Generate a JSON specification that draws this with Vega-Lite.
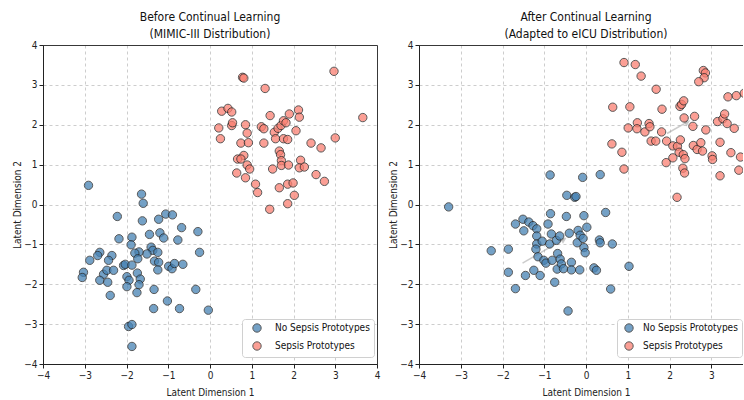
{
  "$schema": "https://vega.github.io/schema/vega-lite/v6.json",
  "background": "white",
  "padding": {"left": 12, "top": 11, "right": 0, "bottom": 0},
  "config": {
    "font": "DejaVu Sans Condensed",
    "view": {"stroke": null},
    "axis": {"grid": true, "labelFlush": false, "gridDash": {"condition": {"test": "abs(datum.value) == 4", "value": []}, "value": [3, 3]}, "gridColor": {"condition": {"test": "abs(datum.value) == 4", "value": "#222"}, "value": "#c8c8c8"}, "gridOpacity": 0.9, "domainColor": "#222", "tickColor": "#222", "labelFontSize": 10, "titleFontSize": 10, "labelColor": "#222", "titleColor": "#222", "titleFontWeight": "normal", "tickSize": 4, "labelPadding": 2},
    "axisY": {"titlePadding": 1},
    "axisX": {"titlePadding": 7},
    "title": {"fontSize": 12, "fontWeight": "normal", "lineHeight": 17, "color": "#111", "offset": -1, "anchor": "middle"},
    "legend": {"orient": "none", "fillColor": "white", "strokeColor": "#d0d0d0", "cornerRadius": 3, "padding": 4, "symbolOffset": 6, "labelOffset": 13, "symbolType": "circle", "symbolSize": 70, "symbolStrokeColor": "#222", "symbolStrokeWidth": 1, "symbolOpacity": 0.75, "labelFontSize": 10, "labelColor": "#111", "rowPadding": 4, "title": null}
  },
  "datasets": {
    "before": [
      {"x": -2.91, "y": 0.48, "c": "No Sepsis Prototypes"}, {"x": -1.64, "y": 0.26, "c": "No Sepsis Prototypes"}, {"x": -1.60, "y": 0.03, "c": "No Sepsis Prototypes"}, {"x": -2.22, "y": -0.30, "c": "No Sepsis Prototypes"}, {"x": -1.62, "y": -0.41, "c": "No Sepsis Prototypes"}, {"x": -1.23, "y": -0.37, "c": "No Sepsis Prototypes"}, {"x": -1.06, "y": -0.24, "c": "No Sepsis Prototypes"}, {"x": -0.90, "y": -0.26, "c": "No Sepsis Prototypes"}, {"x": -0.68, "y": -0.58, "c": "No Sepsis Prototypes"}, {"x": -0.29, "y": -0.68, "c": "No Sepsis Prototypes"},
      {"x": -2.18, "y": -0.86, "c": "No Sepsis Prototypes"}, {"x": -1.87, "y": -0.82, "c": "No Sepsis Prototypes"}, {"x": -1.89, "y": -1.01, "c": "No Sepsis Prototypes"}, {"x": -1.45, "y": -0.75, "c": "No Sepsis Prototypes"}, {"x": -1.20, "y": -0.71, "c": "No Sepsis Prototypes"}, {"x": -1.11, "y": -0.84, "c": "No Sepsis Prototypes"}, {"x": -0.77, "y": -0.89, "c": "No Sepsis Prototypes"}, {"x": -1.41, "y": -1.07, "c": "No Sepsis Prototypes"}, {"x": -1.37, "y": -1.15, "c": "No Sepsis Prototypes"}, {"x": -1.25, "y": -1.20, "c": "No Sepsis Prototypes"},
      {"x": -1.51, "y": -1.24, "c": "No Sepsis Prototypes"}, {"x": -1.70, "y": -1.19, "c": "No Sepsis Prototypes"}, {"x": -1.80, "y": -1.22, "c": "No Sepsis Prototypes"}, {"x": -1.73, "y": -1.36, "c": "No Sepsis Prototypes"}, {"x": -0.25, "y": -1.20, "c": "No Sepsis Prototypes"}, {"x": -2.64, "y": -1.20, "c": "No Sepsis Prototypes"}, {"x": -2.69, "y": -1.28, "c": "No Sepsis Prototypes"}, {"x": -2.35, "y": -1.28, "c": "No Sepsis Prototypes"}, {"x": -2.43, "y": -1.40, "c": "No Sepsis Prototypes"}, {"x": -2.88, "y": -1.40, "c": "No Sepsis Prototypes"},
      {"x": -2.07, "y": -1.53, "c": "No Sepsis Prototypes"}, {"x": -2.03, "y": -1.50, "c": "No Sepsis Prototypes"}, {"x": -1.87, "y": -1.52, "c": "No Sepsis Prototypes"}, {"x": -1.33, "y": -1.42, "c": "No Sepsis Prototypes"}, {"x": -1.23, "y": -1.45, "c": "No Sepsis Prototypes"}, {"x": -1.25, "y": -1.64, "c": "No Sepsis Prototypes"}, {"x": -0.99, "y": -1.55, "c": "No Sepsis Prototypes"}, {"x": -0.91, "y": -1.61, "c": "No Sepsis Prototypes"}, {"x": -0.85, "y": -1.48, "c": "No Sepsis Prototypes"}, {"x": -0.65, "y": -1.50, "c": "No Sepsis Prototypes"},
      {"x": -3.03, "y": -1.70, "c": "No Sepsis Prototypes"}, {"x": -3.06, "y": -1.83, "c": "No Sepsis Prototypes"}, {"x": -2.55, "y": -1.75, "c": "No Sepsis Prototypes"}, {"x": -2.47, "y": -1.65, "c": "No Sepsis Prototypes"}, {"x": -2.31, "y": -1.65, "c": "No Sepsis Prototypes"}, {"x": -2.64, "y": -1.90, "c": "No Sepsis Prototypes"}, {"x": -2.45, "y": -1.95, "c": "No Sepsis Prototypes"}, {"x": -1.74, "y": -1.72, "c": "No Sepsis Prototypes"}, {"x": -1.99, "y": -1.81, "c": "No Sepsis Prototypes"}, {"x": -1.94, "y": -1.90, "c": "No Sepsis Prototypes"},
      {"x": -1.67, "y": -1.87, "c": "No Sepsis Prototypes"}, {"x": -1.70, "y": -2.01, "c": "No Sepsis Prototypes"}, {"x": -1.99, "y": -2.06, "c": "No Sepsis Prototypes"}, {"x": -2.39, "y": -2.28, "c": "No Sepsis Prototypes"}, {"x": -1.75, "y": -2.21, "c": "No Sepsis Prototypes"}, {"x": -1.34, "y": -2.13, "c": "No Sepsis Prototypes"}, {"x": -0.34, "y": -2.13, "c": "No Sepsis Prototypes"}, {"x": -1.02, "y": -2.42, "c": "No Sepsis Prototypes"}, {"x": -1.35, "y": -2.61, "c": "No Sepsis Prototypes"}, {"x": -0.73, "y": -2.61, "c": "No Sepsis Prototypes"},
      {"x": -0.04, "y": -2.65, "c": "No Sepsis Prototypes"}, {"x": -1.95, "y": -3.06, "c": "No Sepsis Prototypes"}, {"x": -1.87, "y": -3.01, "c": "No Sepsis Prototypes"}, {"x": -1.87, "y": -3.56, "c": "No Sepsis Prototypes"},
      {"x": 0.78, "y": 3.19, "c": "Sepsis Prototypes"}, {"x": 0.81, "y": 3.17, "c": "Sepsis Prototypes"}, {"x": 2.97, "y": 3.34, "c": "Sepsis Prototypes"}, {"x": 1.32, "y": 2.91, "c": "Sepsis Prototypes"}, {"x": 0.28, "y": 2.34, "c": "Sepsis Prototypes"}, {"x": 0.43, "y": 2.41, "c": "Sepsis Prototypes"}, {"x": 0.52, "y": 2.32, "c": "Sepsis Prototypes"}, {"x": 1.44, "y": 2.23, "c": "Sepsis Prototypes"}, {"x": 1.90, "y": 2.27, "c": "Sepsis Prototypes"}, {"x": 2.12, "y": 2.37, "c": "Sepsis Prototypes"},
      {"x": 2.14, "y": 2.19, "c": "Sepsis Prototypes"}, {"x": 3.66, "y": 2.18, "c": "Sepsis Prototypes"}, {"x": 0.21, "y": 1.92, "c": "Sepsis Prototypes"}, {"x": 0.25, "y": 1.65, "c": "Sepsis Prototypes"}, {"x": 0.52, "y": 1.98, "c": "Sepsis Prototypes"}, {"x": 0.54, "y": 2.05, "c": "Sepsis Prototypes"}, {"x": 0.85, "y": 2.00, "c": "Sepsis Prototypes"}, {"x": 0.89, "y": 1.79, "c": "Sepsis Prototypes"}, {"x": 1.23, "y": 1.95, "c": "Sepsis Prototypes"}, {"x": 1.29, "y": 1.90, "c": "Sepsis Prototypes"},
      {"x": 1.54, "y": 1.81, "c": "Sepsis Prototypes"}, {"x": 1.63, "y": 1.91, "c": "Sepsis Prototypes"}, {"x": 1.70, "y": 1.98, "c": "Sepsis Prototypes"}, {"x": 1.76, "y": 2.10, "c": "Sepsis Prototypes"}, {"x": 1.82, "y": 2.05, "c": "Sepsis Prototypes"}, {"x": 1.57, "y": 1.65, "c": "Sepsis Prototypes"}, {"x": 1.76, "y": 1.65, "c": "Sepsis Prototypes"}, {"x": 1.86, "y": 1.63, "c": "Sepsis Prototypes"}, {"x": 2.06, "y": 1.85, "c": "Sepsis Prototypes"}, {"x": 0.74, "y": 1.54, "c": "Sepsis Prototypes"},
      {"x": 0.92, "y": 1.55, "c": "Sepsis Prototypes"}, {"x": 1.29, "y": 1.54, "c": "Sepsis Prototypes"}, {"x": 2.42, "y": 1.54, "c": "Sepsis Prototypes"}, {"x": 2.66, "y": 1.42, "c": "Sepsis Prototypes"}, {"x": 3.00, "y": 1.67, "c": "Sepsis Prototypes"}, {"x": 1.66, "y": 1.34, "c": "Sepsis Prototypes"}, {"x": 1.69, "y": 1.25, "c": "Sepsis Prototypes"}, {"x": 0.81, "y": 1.23, "c": "Sepsis Prototypes"}, {"x": 0.66, "y": 1.14, "c": "Sepsis Prototypes"}, {"x": 0.74, "y": 1.14, "c": "Sepsis Prototypes"},
      {"x": 1.71, "y": 1.10, "c": "Sepsis Prototypes"}, {"x": 2.17, "y": 1.11, "c": "Sepsis Prototypes"}, {"x": 0.89, "y": 0.99, "c": "Sepsis Prototypes"}, {"x": 0.95, "y": 0.89, "c": "Sepsis Prototypes"}, {"x": 1.71, "y": 0.98, "c": "Sepsis Prototypes"}, {"x": 1.88, "y": 0.99, "c": "Sepsis Prototypes"}, {"x": 1.50, "y": 0.89, "c": "Sepsis Prototypes"}, {"x": 2.14, "y": 0.92, "c": "Sepsis Prototypes"}, {"x": 2.26, "y": 0.94, "c": "Sepsis Prototypes"}, {"x": 0.64, "y": 0.79, "c": "Sepsis Prototypes"},
      {"x": 0.85, "y": 0.67, "c": "Sepsis Prototypes"}, {"x": 2.54, "y": 0.75, "c": "Sepsis Prototypes"}, {"x": 2.74, "y": 0.58, "c": "Sepsis Prototypes"}, {"x": 1.09, "y": 0.51, "c": "Sepsis Prototypes"}, {"x": 1.14, "y": 0.30, "c": "Sepsis Prototypes"}, {"x": 1.66, "y": 0.42, "c": "Sepsis Prototypes"}, {"x": 1.86, "y": 0.51, "c": "Sepsis Prototypes"}, {"x": 1.99, "y": 0.54, "c": "Sepsis Prototypes"}, {"x": 2.02, "y": 0.23, "c": "Sepsis Prototypes"}, {"x": 1.86, "y": 0.02, "c": "Sepsis Prototypes"},
      {"x": 1.43, "y": -0.12, "c": "Sepsis Prototypes"}
    ],
    "after": [
      {"x": -3.29, "y": -0.06, "c": "No Sepsis Prototypes"}, {"x": -2.27, "y": -1.16, "c": "No Sepsis Prototypes"}, {"x": -1.86, "y": -1.12, "c": "No Sepsis Prototypes"}, {"x": -1.86, "y": -1.70, "c": "No Sepsis Prototypes"}, {"x": -1.69, "y": -2.11, "c": "No Sepsis Prototypes"}, {"x": -1.45, "y": -1.78, "c": "No Sepsis Prototypes"}, {"x": -1.25, "y": -1.65, "c": "No Sepsis Prototypes"}, {"x": -1.10, "y": -1.78, "c": "No Sepsis Prototypes"}, {"x": -1.69, "y": -0.49, "c": "No Sepsis Prototypes"}, {"x": -1.51, "y": -0.37, "c": "No Sepsis Prototypes"},
      {"x": -1.49, "y": -0.66, "c": "No Sepsis Prototypes"}, {"x": -1.37, "y": -0.44, "c": "No Sepsis Prototypes"}, {"x": -1.27, "y": -0.53, "c": "No Sepsis Prototypes"}, {"x": -1.18, "y": -0.61, "c": "No Sepsis Prototypes"}, {"x": -1.18, "y": -0.79, "c": "No Sepsis Prototypes"}, {"x": -1.18, "y": -0.99, "c": "No Sepsis Prototypes"}, {"x": -1.20, "y": -1.12, "c": "No Sepsis Prototypes"}, {"x": -1.15, "y": -1.31, "c": "No Sepsis Prototypes"}, {"x": -1.05, "y": -0.92, "c": "No Sepsis Prototypes"}, {"x": -1.01, "y": -1.40, "c": "No Sepsis Prototypes"},
      {"x": -0.96, "y": -1.47, "c": "No Sepsis Prototypes"}, {"x": -0.91, "y": -0.49, "c": "No Sepsis Prototypes"}, {"x": -0.87, "y": -0.99, "c": "No Sepsis Prototypes"}, {"x": -0.83, "y": -0.74, "c": "No Sepsis Prototypes"}, {"x": -0.81, "y": -1.40, "c": "No Sepsis Prototypes"}, {"x": -0.86, "y": 0.74, "c": "No Sepsis Prototypes"}, {"x": -0.85, "y": -0.23, "c": "No Sepsis Prototypes"}, {"x": -0.75, "y": -1.95, "c": "No Sepsis Prototypes"}, {"x": -0.71, "y": -0.90, "c": "No Sepsis Prototypes"}, {"x": -0.68, "y": -1.23, "c": "No Sepsis Prototypes"},
      {"x": -0.63, "y": -0.79, "c": "No Sepsis Prototypes"}, {"x": -0.69, "y": -1.62, "c": "No Sepsis Prototypes"}, {"x": -0.62, "y": -1.37, "c": "No Sepsis Prototypes"}, {"x": -0.59, "y": -1.49, "c": "No Sepsis Prototypes"}, {"x": -0.54, "y": -1.61, "c": "No Sepsis Prototypes"}, {"x": -0.47, "y": -0.30, "c": "No Sepsis Prototypes"}, {"x": -0.46, "y": 0.23, "c": "No Sepsis Prototypes"}, {"x": -0.43, "y": -2.67, "c": "No Sepsis Prototypes"}, {"x": -0.40, "y": -0.72, "c": "No Sepsis Prototypes"}, {"x": -0.35, "y": -1.45, "c": "No Sepsis Prototypes"},
      {"x": -0.35, "y": -1.64, "c": "No Sepsis Prototypes"}, {"x": -0.27, "y": 0.18, "c": "No Sepsis Prototypes"}, {"x": -0.24, "y": 0.20, "c": "No Sepsis Prototypes"}, {"x": -0.21, "y": -0.96, "c": "No Sepsis Prototypes"}, {"x": -0.19, "y": -0.65, "c": "No Sepsis Prototypes"}, {"x": -0.15, "y": -1.64, "c": "No Sepsis Prototypes"}, {"x": -0.14, "y": -0.77, "c": "No Sepsis Prototypes"}, {"x": -0.08, "y": 0.68, "c": "No Sepsis Prototypes"}, {"x": -0.07, "y": -0.85, "c": "No Sepsis Prototypes"}, {"x": -0.05, "y": -0.28, "c": "No Sepsis Prototypes"},
      {"x": -0.05, "y": -1.08, "c": "No Sepsis Prototypes"}, {"x": -0.02, "y": -1.21, "c": "No Sepsis Prototypes"}, {"x": 0.02, "y": -0.57, "c": "No Sepsis Prototypes"}, {"x": 0.19, "y": -1.59, "c": "No Sepsis Prototypes"}, {"x": 0.25, "y": -1.65, "c": "No Sepsis Prototypes"}, {"x": 0.32, "y": -0.89, "c": "No Sepsis Prototypes"}, {"x": 0.34, "y": -0.96, "c": "No Sepsis Prototypes"}, {"x": 0.34, "y": 0.75, "c": "No Sepsis Prototypes"}, {"x": 0.47, "y": -0.20, "c": "No Sepsis Prototypes"}, {"x": 0.63, "y": -0.99, "c": "No Sepsis Prototypes"},
      {"x": 0.59, "y": -2.12, "c": "No Sepsis Prototypes"}, {"x": 1.03, "y": -1.55, "c": "No Sepsis Prototypes"},
      {"x": 0.91, "y": 3.56, "c": "Sepsis Prototypes"}, {"x": 1.18, "y": 3.51, "c": "Sepsis Prototypes"}, {"x": 1.32, "y": 3.22, "c": "Sepsis Prototypes"}, {"x": 1.68, "y": 2.89, "c": "Sepsis Prototypes"}, {"x": 2.81, "y": 3.36, "c": "Sepsis Prototypes"}, {"x": 2.86, "y": 3.30, "c": "Sepsis Prototypes"}, {"x": 2.83, "y": 3.18, "c": "Sepsis Prototypes"}, {"x": 2.70, "y": 3.08, "c": "Sepsis Prototypes"}, {"x": 3.40, "y": 2.70, "c": "Sepsis Prototypes"}, {"x": 3.60, "y": 2.73, "c": "Sepsis Prototypes"},
      {"x": 3.79, "y": 2.79, "c": "Sepsis Prototypes"}, {"x": 0.64, "y": 2.44, "c": "Sepsis Prototypes"}, {"x": 1.05, "y": 2.45, "c": "Sepsis Prototypes"}, {"x": 1.82, "y": 2.39, "c": "Sepsis Prototypes"}, {"x": 2.25, "y": 2.46, "c": "Sepsis Prototypes"}, {"x": 2.29, "y": 2.51, "c": "Sepsis Prototypes"}, {"x": 2.34, "y": 2.60, "c": "Sepsis Prototypes"}, {"x": 2.35, "y": 2.17, "c": "Sepsis Prototypes"}, {"x": 2.60, "y": 2.21, "c": "Sepsis Prototypes"}, {"x": 1.23, "y": 2.05, "c": "Sepsis Prototypes"},
      {"x": 1.01, "y": 1.92, "c": "Sepsis Prototypes"}, {"x": 1.22, "y": 1.90, "c": "Sepsis Prototypes"}, {"x": 1.41, "y": 1.82, "c": "Sepsis Prototypes"}, {"x": 1.51, "y": 2.03, "c": "Sepsis Prototypes"}, {"x": 1.53, "y": 1.95, "c": "Sepsis Prototypes"}, {"x": 1.81, "y": 1.82, "c": "Sepsis Prototypes"}, {"x": 2.56, "y": 1.96, "c": "Sepsis Prototypes"}, {"x": 2.87, "y": 1.87, "c": "Sepsis Prototypes"}, {"x": 3.15, "y": 2.08, "c": "Sepsis Prototypes"}, {"x": 3.28, "y": 2.15, "c": "Sepsis Prototypes"},
      {"x": 3.32, "y": 2.27, "c": "Sepsis Prototypes"}, {"x": 3.38, "y": 2.03, "c": "Sepsis Prototypes"}, {"x": 3.55, "y": 1.91, "c": "Sepsis Prototypes"}, {"x": 0.62, "y": 1.52, "c": "Sepsis Prototypes"}, {"x": 0.86, "y": 1.31, "c": "Sepsis Prototypes"}, {"x": 0.91, "y": 0.89, "c": "Sepsis Prototypes"}, {"x": 1.56, "y": 1.59, "c": "Sepsis Prototypes"}, {"x": 1.67, "y": 1.59, "c": "Sepsis Prototypes"}, {"x": 1.93, "y": 1.59, "c": "Sepsis Prototypes"}, {"x": 2.08, "y": 1.47, "c": "Sepsis Prototypes"},
      {"x": 2.19, "y": 1.46, "c": "Sepsis Prototypes"}, {"x": 2.26, "y": 1.62, "c": "Sepsis Prototypes"}, {"x": 2.23, "y": 1.31, "c": "Sepsis Prototypes"}, {"x": 2.08, "y": 1.17, "c": "Sepsis Prototypes"}, {"x": 1.92, "y": 1.05, "c": "Sepsis Prototypes"}, {"x": 2.33, "y": 1.25, "c": "Sepsis Prototypes"}, {"x": 2.37, "y": 1.15, "c": "Sepsis Prototypes"}, {"x": 2.32, "y": 0.91, "c": "Sepsis Prototypes"}, {"x": 2.36, "y": 0.79, "c": "Sepsis Prototypes"}, {"x": 2.57, "y": 1.48, "c": "Sepsis Prototypes"},
      {"x": 2.66, "y": 1.38, "c": "Sepsis Prototypes"}, {"x": 2.75, "y": 1.55, "c": "Sepsis Prototypes"}, {"x": 2.79, "y": 1.34, "c": "Sepsis Prototypes"}, {"x": 3.02, "y": 1.22, "c": "Sepsis Prototypes"}, {"x": 3.03, "y": 1.13, "c": "Sepsis Prototypes"}, {"x": 3.21, "y": 1.56, "c": "Sepsis Prototypes"}, {"x": 3.47, "y": 1.30, "c": "Sepsis Prototypes"}, {"x": 3.70, "y": 1.19, "c": "Sepsis Prototypes"}, {"x": 3.66, "y": 0.86, "c": "Sepsis Prototypes"}, {"x": 3.21, "y": 0.72, "c": "Sepsis Prototypes"},
      {"x": 2.18, "y": 0.18, "c": "Sepsis Prototypes"}
    ],
    "arrows": [
      {"x": -1.52, "y": -1.47, "x2": -0.53, "y2": -0.87},
      {"x": 1.94, "y": 1.78, "x2": 2.43, "y2": 2.07}
    ]
  },
  "spacing": 42,
  "bounds": "flush",
  "resolve": {"scale": {"color": "independent"}, "legend": {"color": "independent"}},
  "hconcat": [
    {
      "width": 334,
      "height": 319,
      "title": {"text": ["Before Continual Learning", "(MIMIC-III Distribution)"]},
      "data": {"name": "before"},
      "mark": {"type": "point", "filled": true, "shape": "circle", "size": 70, "opacity": 0.75, "stroke": "#222", "strokeWidth": 1},
      "encoding": {
        "x": {"field": "x", "type": "quantitative", "scale": {"domain": [-4, 4], "nice": false, "zero": false}, "axis": {"values": [-4, -3, -2, -1, 0, 1, 2, 3, 4], "title": "Latent Dimension 1"}},
        "y": {"field": "y", "type": "quantitative", "scale": {"domain": [-4, 4], "nice": false, "zero": false}, "axis": {"values": [-4, -3, -2, -1, 0, 1, 2, 3, 4], "title": "Latent Dimension 2"}},
        "color": {"field": "c", "type": "nominal", "scale": {"domain": ["No Sepsis Prototypes", "Sepsis Prototypes"], "range": ["#4682b4", "#fa8072"]}, "legend": {"legendX": 199, "legendY": 274}}
      }
    },
    {
      "width": 324,
      "height": 319,
      "title": {"text": ["After Continual Learning", "(Adapted to eICU Distribution)"], "dx": 5},
      "layer": [
        {
          "data": {"name": "arrows"},
          "mark": {"type": "rule", "color": "#999", "opacity": 0.5, "strokeWidth": 1.5},
          "encoding": {
            "x": {"field": "x", "type": "quantitative"},
            "y": {"field": "y", "type": "quantitative"},
            "x2": {"field": "x2"},
            "y2": {"field": "y2"}
          }
        },
        {
          "data": {"name": "arrows"},
          "mark": {"type": "point", "shape": "triangle-right", "filled": true, "color": "#999", "opacity": 0.5, "size": 50, "angle": -30},
          "encoding": {
            "x": {"field": "x2", "type": "quantitative"},
            "y": {"field": "y2", "type": "quantitative"}
          }
        },
        {
          "data": {"name": "after"},
          "mark": {"type": "point", "filled": true, "shape": "circle", "size": 70, "opacity": 0.75, "stroke": "#222", "strokeWidth": 1, "clip": true},
          "encoding": {
            "x": {"field": "x", "type": "quantitative"},
            "y": {"field": "y", "type": "quantitative"},
            "color": {"field": "c", "type": "nominal", "scale": {"domain": ["No Sepsis Prototypes", "Sepsis Prototypes"], "range": ["#4682b4", "#fa8072"]}, "legend": {"legendX": 198, "legendY": 274, "symbolOffset": 3, "labelOffset": 9}}
          }
        }
      ],
      "encoding": {
        "x": {"scale": {"domain": [-4, 3.76], "nice": false, "zero": false}, "axis": {"values": [-4, -3, -2, -1, 0, 1, 2, 3], "title": "Latent Dimension 1", "titleX": 167}},
        "y": {"scale": {"domain": [-4, 4], "nice": false, "zero": false}, "axis": {"values": [-4, -3, -2, -1, 0, 1, 2, 3, 4], "title": "Latent Dimension 2"}}
      }
    }
  ]
}
